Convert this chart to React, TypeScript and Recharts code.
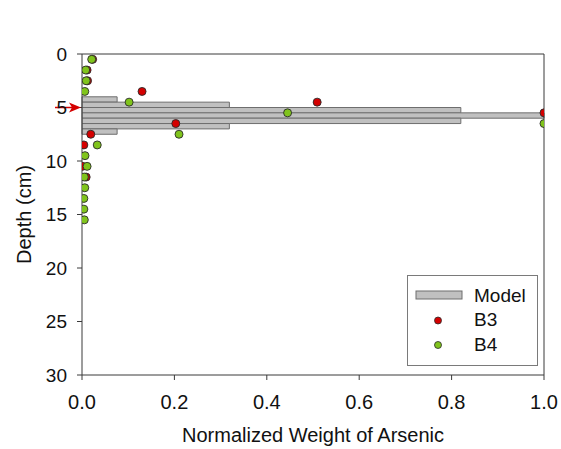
import React from 'react';
import { ScatterChart, Scatter, XAxis, YAxis, ReferenceArea, ReferenceLine, ReferenceDot, Legend } from 'recharts';

// Model: depth bins (top of each 0.5 cm bin) and normalized weight
const modelDepthTop = [4, 4.5, 5, 5.5, 6, 6.5, 7];
const modelBin = 0.5;
const modelWeight = [0.076, 0.319, 0.82, 1.0, 0.82, 0.319, 0.076];

// B3 measurements
const b3Depth = [0.5, 1.5, 2.5, 3.5, 4.5, 5.5, 6.5, 7.5, 8.5, 10.5, 11.5];
const b3Weight = [0.023, 0.011, 0.012, 0.13, 0.509, 1.0, 0.203, 0.019, 0.004, 0.001, 0.009];

// B4 measurements
const b4Depth = [0.5, 1.5, 2.5, 3.5, 4.5, 5.5, 6.5, 7.5, 8.5, 9.5, 10.5, 11.5, 12.5, 13.5, 14.5, 15.5];
const b4Weight = [0.021, 0.008, 0.009, 0.006, 0.102, 0.445, 1.0, 0.21, 0.033, 0.0065, 0.011, 0.005, 0.006, 0.004, 0.004, 0.005];

const xTicks = [0, 0.2, 0.4, 0.6, 0.8, 1.0];
const yTicks = [0, 5, 10, 15, 20, 25, 30];
const arrowDepth = 5;

const legendNames = ['Model', 'B3', 'B4'];

const RED = '#d40000';
const GREEN = '#80c41c';
const BAR_FILL = '#c0c0c0';
const BAR_STROKE = '#6e6e6e';
const AXIS = '#3a3a3a';
const FONT = '"Liberation Sans", Arial, sans-serif';

const b3Data = b3Depth.map((d, i) => ({ x: b3Weight[i], y: d }));
const b4Data = b4Depth.map((d, i) => ({ x: b4Weight[i], y: d }));

const dot = (color: string) => (props: any) => (
  <circle cx={props.cx} cy={props.cy} r={4} fill={color} stroke="#2a2a2a" strokeWidth={0.9} />
);

const Arrow = (props: any) => {
  const { cx, cy } = props;
  return (
    <g>
      <line x1={cx - 27} y1={cy} x2={cx - 10} y2={cy} stroke={RED} strokeWidth={1.5} />
      <polygon points={`${cx - 1},${cy} ${cx - 13},${cy - 5} ${cx - 10},${cy} ${cx - 13},${cy + 5}`} fill={RED} />
    </g>
  );
};

const LegendBox = () => (
  <svg width={132} height={92} style={{ display: 'block' }}>
    <rect x={0.5} y={0.5} width={130} height={90} fill="#fff" stroke="#7a7a7a" strokeWidth={1} />
    <rect x={9} y={16} width={46} height={8} fill={BAR_FILL} stroke={BAR_STROKE} strokeWidth={1} />
    <circle cx={31} cy={45.5} r={3.5} fill={RED} stroke="#2a2a2a" strokeWidth={0.8} />
    <circle cx={31} cy={70} r={3.5} fill={GREEN} stroke="#2a2a2a" strokeWidth={0.8} />
    {legendNames.map((n, i) => (
      <text key={n} x={67} y={20 + i * 24.5} dy="0.35em" fontSize={19} fill="#111" fontFamily={FONT}>
        {n}
      </text>
    ))}
  </svg>
);

export default function App() {
  return (
    <div style={{ position: 'absolute', left: 0, top: 0, width: 561, height: 449, background: '#fff' }}>
      <ScatterChart
        width={561}
        height={449}
        margin={{ top: 54, right: 17, bottom: 34, left: 0 }}
        style={{ fontFamily: FONT }}
      >
        <XAxis
          type="number"
          dataKey="x"
          domain={[0, 1]}
          ticks={xTicks}
          allowDataOverflow
          tickFormatter={(v: number) => v.toFixed(1)}
          tickSize={5}
          tickMargin={15}
          height={40}
          stroke={AXIS}
          tick={{ fill: '#111', fontSize: 20, fontFamily: FONT }}
          label={{ value: 'Normalized Weight of Arsenic', position: 'bottom', offset: 13, style: { fill: '#111', fontSize: 20, fontFamily: FONT } }}
        />
        <YAxis
          type="number"
          dataKey="y"
          domain={[0, 30]}
          ticks={yTicks}
          reversed
          allowDataOverflow
          tickSize={5}
          tickMargin={10}
          width={82}
          stroke={AXIS}
          tick={{ fill: '#111', fontSize: 19, fontFamily: FONT }}
          label={{ value: 'Depth (cm)', angle: -90, position: 'insideLeft', offset: 24, style: { textAnchor: 'middle', fill: '#111', fontSize: 20, fontFamily: FONT } }}
        />
        <ReferenceLine y={0} stroke={AXIS} strokeWidth={1} />
        <ReferenceLine x={1} stroke={AXIS} strokeWidth={1} />
        {modelDepthTop.map((d, i) => (
          <ReferenceArea
            key={d}
            x1={0}
            x2={modelWeight[i]}
            y1={d}
            y2={d + modelBin}
            fill={BAR_FILL}
            fillOpacity={1}
            stroke={BAR_STROKE}
            strokeWidth={1}
          />
        ))}
        <ReferenceDot x={0} y={arrowDepth} ifOverflow="visible" shape={Arrow} />
        <Scatter name="B3" data={b3Data} isAnimationActive={false} shape={dot(RED)} />
        <Scatter name="B4" data={b4Data} isAnimationActive={false} shape={dot(GREEN)} />
        <Legend
          layout="vertical"
          align="center"
          verticalAlign="middle"
          content={() => <LegendBox />}
          wrapperStyle={{ position: 'absolute', left: 407, top: 275, width: 132, height: 92 }}
        />
      </ScatterChart>
    </div>
  );
}
